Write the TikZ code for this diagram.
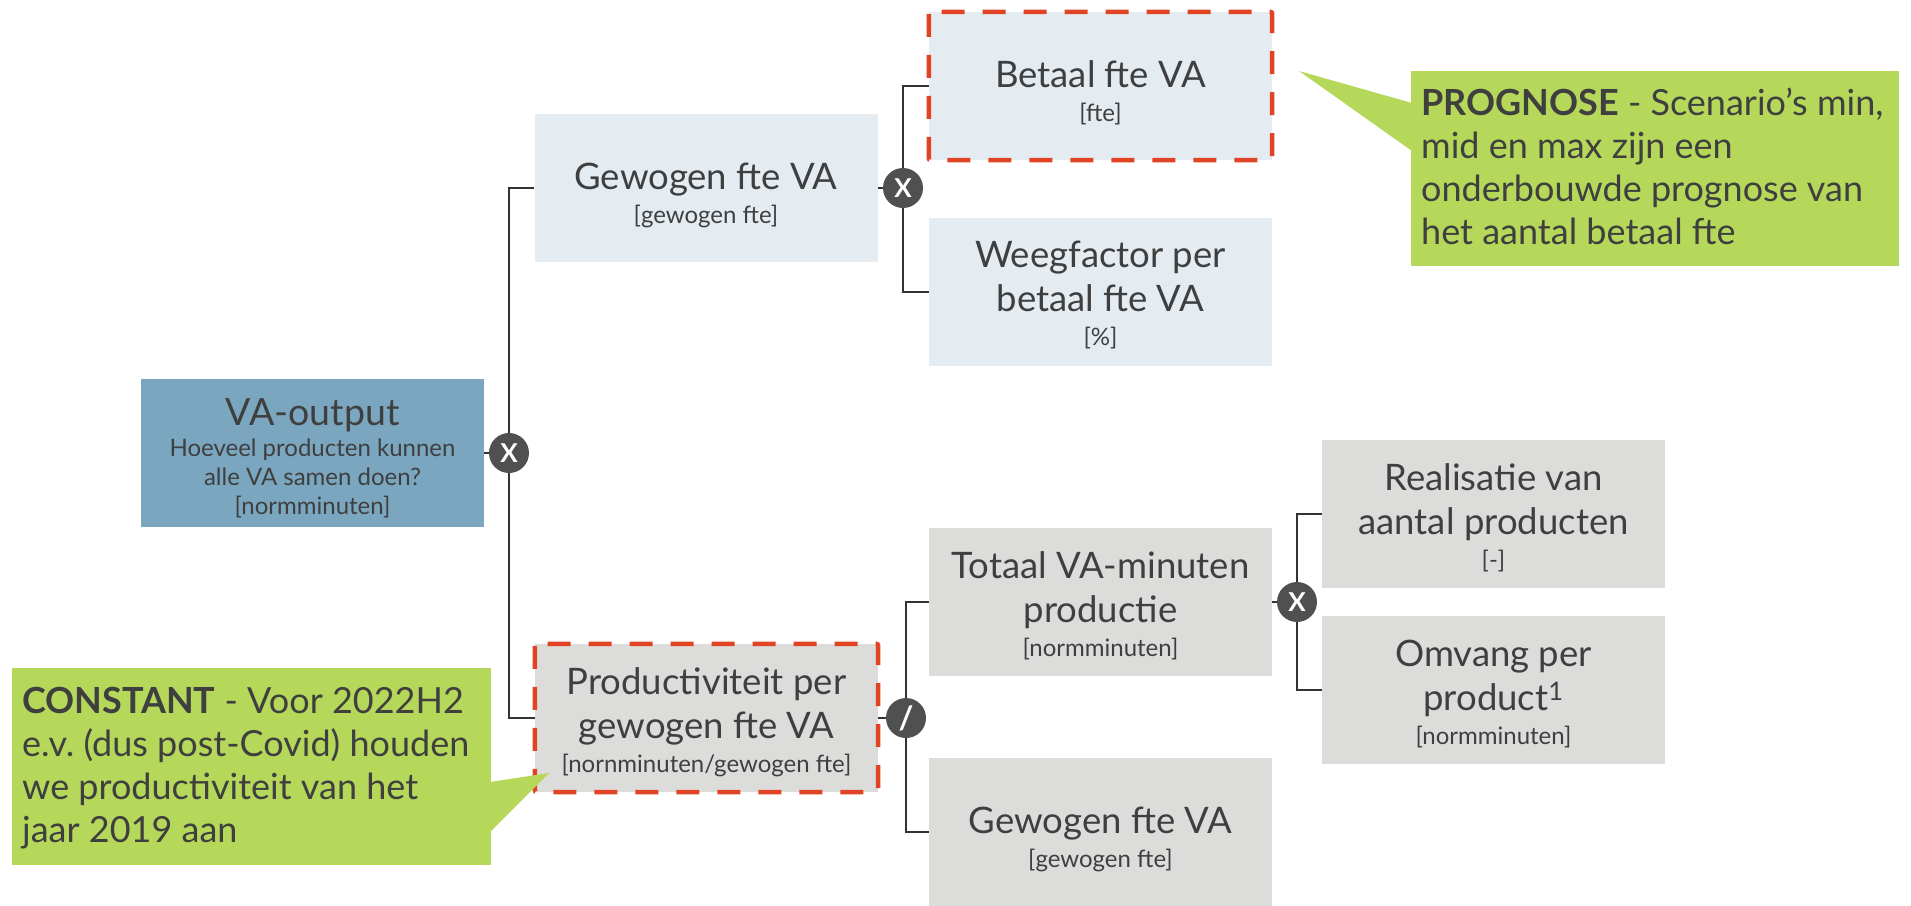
\documentclass[tikz,border=0pt]{standalone}
\usepackage{fontspec}
\setmainfont{Lato}
\frenchspacing
\definecolor{txt}{HTML}{3F3F3F}
\definecolor{lblue}{HTML}{E4ECF2}
\definecolor{lgrey}{HTML}{DCDCDB}
\definecolor{vablue}{HTML}{7AA6BF}
\definecolor{callg}{HTML}{B6D85A}
\definecolor{dred}{HTML}{E14425}
\definecolor{circ}{HTML}{505050}
\definecolor{lin}{HTML}{333333}
\newcommand\mainfs{\fontsize{36.5}{44}\selectfont}
\newcommand\subfs{\fontsize{24}{34}\selectfont}
\newcommand\vatitlefs{\fontsize{37.5}{44}\selectfont}
\newcommand\vasubfs{\fontsize{24}{29}\selectfont}
\newcommand\callfs{\fontsize{36}{43}\selectfont}
\newcommand\bxtext[2]{\parbox[t]{343pt}{\centering\mainfs #1\par\subfs #2\par}}
\begin{document}
\begin{tikzpicture}[x=1pt,y=-1pt,
  box/.style={minimum width=343pt, minimum height=148pt, inner sep=0pt, text=txt},
  oneline/.style={text height=75pt, text depth=73pt},
  twoline/.style={text height=50pt, text depth=98pt},
  bluebox/.style={box, fill=lblue},
  greybox/.style={box, fill=lgrey},
  redframe/.style={draw=dred, line width=4.5pt, dash pattern=on 23pt off 18pt, rounded corners=2pt},
  opcirc/.style={circle, fill=circ, minimum size=40pt, inner sep=0pt, text=white, font=\fontsize{26}{26}\selectfont\bfseries},
  conn/.style={draw=lin, line width=2pt},
  callbg/.style={fill=callg, inner sep=0pt, anchor=north west},
  calltext/.style={inner sep=0pt, text=txt, anchor=base west}
]
\useasboundingbox (0,0) rectangle (1911,905);

% boxes
\node[box, fill=vablue, text height=46pt, text depth=102pt] (va) at (312.5,453)
  {\parbox[t]{343pt}{\centering\vatitlefs VA-output\par\vskip2pt\vasubfs Hoeveel producten kunnen\\alle VA samen doen?\\{}[normminuten]\par}};
\node[bluebox, oneline] (gew1) at (706,188) {\bxtext{Gewogen fte VA}{[gewogen fte]}};
\node[bluebox, oneline] (betaal) at (1100.5,86) {\bxtext{Betaal fte VA}{[fte]}};
\node[bluebox, twoline] (weeg) at (1100.5,291.5) {\bxtext{Weegfactor per\\betaal fte VA}{[\%]}};
\node[greybox, twoline] (prod) at (706.5,718) {\bxtext{Productiviteit per\\gewogen fte VA}{[nornminuten/gewogen fte]}};
\node[greybox, twoline] (totaal) at (1100.5,602) {\bxtext{Totaal VA-minuten\\productie}{[normminuten]}};
\node[greybox, oneline] (gew2) at (1100.5,832) {\bxtext{Gewogen fte VA}{[gewogen fte]}};
\node[greybox, twoline] (real) at (1493.5,514) {\bxtext{Realisatie van\\aantal producten}{[-]}};
\node[greybox, twoline] (omv) at (1493.5,690) {\bxtext{Omvang per\\product\textsuperscript{1}}{[normminuten]}};

% dashed frames
\draw[redframe] (betaal.north west) rectangle (betaal.south east);
\draw[redframe] (prod.north west) rectangle (prod.south east);

% operator positions
\coordinate (p1) at (509,453);
\coordinate (p2) at (903,188);
\coordinate (p3) at (906,718);
\coordinate (p4) at (1297,602);

% connectors
\draw[conn] (va.east) -- (p1);
\draw[conn] (gew1.west) -| (p1) |- (prod.west);
\draw[conn] (gew1.east) -- (p2);
\draw[conn] (betaal.west) -| (p2) |- (weeg.west);
\draw[conn] (prod.east) -- (p3);
\draw[conn] (totaal.west) -| (p3) |- (gew2.west);
\draw[conn] (totaal.east) -- (p4);
\draw[conn] (real.west) -| (p4) |- (omv.west);

% operators
\node[opcirc] (o1) at (p1) {X};
\node[opcirc] (o2) at (p2) {X};
\node[opcirc, font=\fontsize{32}{32}\selectfont\bfseries] (o3) at (p3) {/};
\node[opcirc] (o4) at (p4) {X};

% callouts
\node[callbg, minimum width=488pt, minimum height=195pt] (prog) at (1411,71) {};
\coordinate (progtip) at (1299,71);
\fill[callg] (progtip) -- (1412,103) -- (1412,151) -- cycle;
\node[calltext] (progtxt) at (1421,115)
  {\parbox[t]{480pt}{\raggedright\callfs\textbf{PROGNOSE} - Scenario’s min,\\mid en max zijn een\\onderbouwde prognose van\\het aantal betaal fte}};

\node[callbg, minimum width=479pt, minimum height=197pt] (const) at (12,668) {};
\coordinate (consttip) at (549,773);
\fill[callg] (consttip) -- (490,782) -- (490,832) -- cycle;
\node[calltext] (consttxt) at (22,713)
  {\parbox[t]{480pt}{\raggedright\callfs\textbf{CONSTANT} - Voor 2022H2\\e.v. (dus post-Covid) houden\\we productiviteit van het\\jaar 2019 aan}};
\end{tikzpicture}
\end{document}
